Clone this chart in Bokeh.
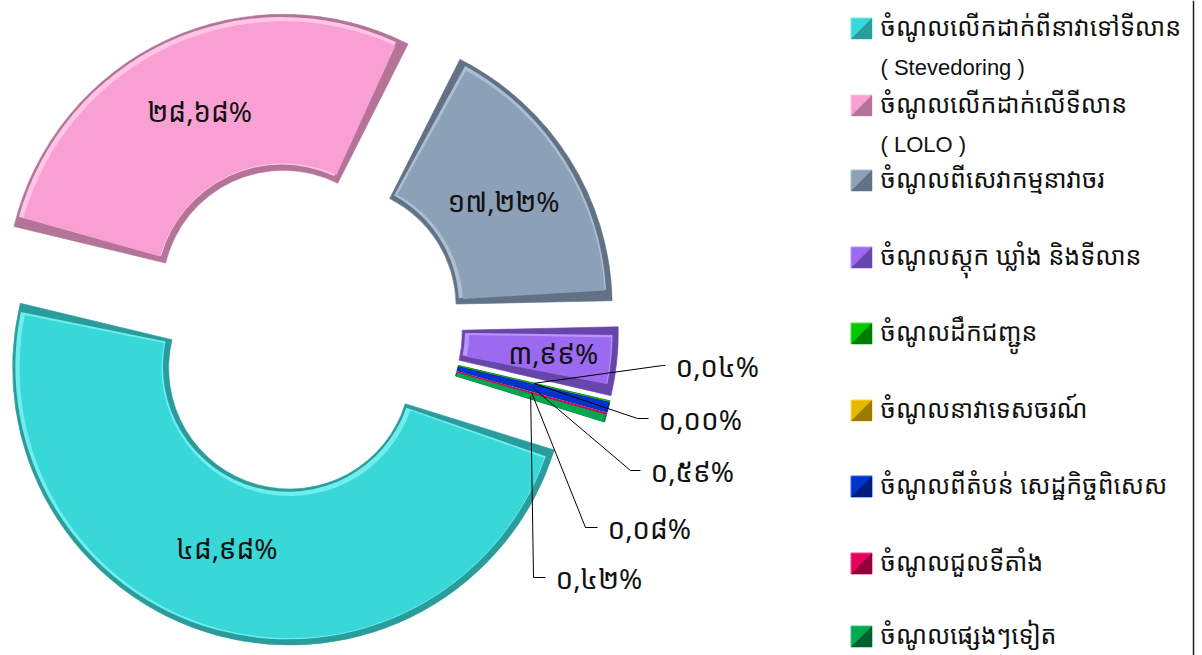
import numpy as np
from bokeh.plotting import figure
from bokeh.models import Range1d, ColumnDataSource, Span
from bokeh.core.properties import value
from bokeh.embed import file_html
from bokeh.resources import INLINE

# ---------------- data ----------------
categories = [
    "ចំណូលលើកដាក់ពីនាវាទៅទីលាន ( Stevedoring )",
    "ចំណូលលើកដាក់លើទីលាន ( LOLO )",
    "ចំណូលពីសេវាកម្មនាវាចរ",
    "ចំណូលស្តុក ឃ្លាំង និងទីលាន",
    "ចំណូលដឹកជញ្ជូន",
    "ចំណូលនាវាទេសចរណ៍",
    "ចំណូលពីតំបន់ សេដ្ឋកិច្ចពិសេស",
    "ចំណូលជួលទីតាំង",
    "ចំណូលផ្សេងៗទៀត",
]
legend_line1 = [
    "ចំណូលលើកដាក់ពីនាវាទៅទីលាន",
    "ចំណូលលើកដាក់លើទីលាន",
    "ចំណូលពីសេវាកម្មនាវាចរ",
    "ចំណូលស្តុក ឃ្លាំង និងទីលាន",
    "ចំណូលដឹកជញ្ជូន",
    "ចំណូលនាវាទេសចរណ៍",
    "ចំណូលពីតំបន់ សេដ្ឋកិច្ចពិសេស",
    "ចំណូលជួលទីតាំង",
    "ចំណូលផ្សេងៗទៀត",
]
legend_line2 = ["( Stevedoring )", "( LOLO )", "", "", "", "", "", "", ""]
shares = [48.98, 28.68, 17.22, 3.99, 0.04, 0.00, 0.59, 0.08, 0.42]
labels = ["៤៨,៩៨%", "២៨,៦៨%", "១៧,២២%", "៣,៩៩%", "០,០៤%", "០,០០%", "០,៥៩%", "០,០៨%", "០,៤២%"]

# ---------------- style ----------------
main_colors = ["#38D8D8", "#F9A0D2", "#8CA0B8", "#9B6AF0", "#00C800",
               "#E8B800", "#0033CC", "#E8005E", "#00A850"]
dark_colors = ["#2A9C9C", "#B47498", "#627286", "#6646A8", "#007A00",
               "#9A7A00", "#001A80", "#90003A", "#006030"]
light_colors = ["#70EEEE", "#FFC4E6", "#AEBED2", "#B994FF", "#50E050",
                "#FFD850", "#3366EE", "#FF4088", "#40C880"]

KH = value("Noto Sans Khmer, Khmer OS, Khmer OS System, Noto Sans, sans-serif")
LAT = value("Liberation Sans, Arial, sans-serif")

W, H = 1202, 655
p = figure(width=W, height=H, output_backend="svg", toolbar_location=None,
           x_range=Range1d(0, W), y_range=Range1d(0, H),
           min_border=0)
p.axis.visible = False
p.grid.visible = False
p.outline_line_color = None
p.background_fill_color = "white"

# geometry (pixels, y up)
cx, cy = 300.0, 655 - 328.0
r_out, r_in = 277.0, 121.0
explode = 41.0
theta0 = -17.2  # degrees, start of first slice, going clockwise
bevel = 7.0

cum = np.concatenate([[0.0], np.cumsum(shares)])
a_start = np.radians(theta0 - 3.6 * cum[:-1])   # larger angle
a_end = np.radians(theta0 - 3.6 * cum[1:])      # smaller angle
a_mid = (a_start + a_end) / 2
ox = cx + explode * np.cos(a_mid)
oy = cy + explode * np.sin(a_mid)

span = a_start - a_end
vis = span > 0
rm = (r_in + r_out) / 2
big = span > np.radians(3.0)
small = vis & ~big

src = ColumnDataSource(dict(x=ox[vis], y=oy[vis], s=a_end[vis], e=a_start[vis],
                            dark=np.array(dark_colors)[vis]))
# outer dark rim
p.annular_wedge(x="x", y="y", inner_radius=r_in, outer_radius=r_out,
                start_angle="s", end_angle="e", fill_color="dark",
                line_color="dark", line_width=0.6, source=src)

# light bevel (upper part of rim), then main face
d_ang = bevel / rm
src2 = ColumnDataSource(dict(x=ox[big] - 1.5, y=oy[big] + 1.5,
                             s=a_end[big] + d_ang, e=a_start[big] - d_ang,
                             light=np.array(light_colors)[big]))
p.annular_wedge(x="x", y="y", inner_radius=r_in + bevel * 0.6, outer_radius=r_out - bevel * 0.6,
                start_angle="s", end_angle="e", fill_color="light",
                line_color=None, source=src2)
src3 = ColumnDataSource(dict(x=ox[big], y=oy[big],
                             s=a_end[big] + d_ang * 1.1, e=a_start[big] - d_ang * 1.1,
                             main=np.array(main_colors)[big]))
p.annular_wedge(x="x", y="y", inner_radius=r_in + bevel, outer_radius=r_out - bevel,
                start_angle="s", end_angle="e", fill_color="main",
                line_color=None, source=src3)
# tiny slices: main colour face
src4 = ColumnDataSource(dict(x=ox[small], y=oy[small], s=a_end[small], e=a_start[small],
                             main=np.array(main_colors)[small]))
p.annular_wedge(x="x", y="y", inner_radius=r_in + 1, outer_radius=r_out - 1,
                start_angle="s", end_angle="e", fill_color="main",
                line_color=None, source=src4)

# data labels inside big slices (small nudges as placed in the reference)
lab_dx = [-10, 0, 0, 14, 0, 0, 0, 0, 0]
lab_dy = [12, 0, 0, 0, 0, 0, 0, 0, 0]
lx = ox + rm * np.cos(a_mid)
ly = oy + rm * np.sin(a_mid)
bi = np.where(big)[0]
p.text(x=[lx[i] + lab_dx[i] for i in bi], y=[ly[i] + lab_dy[i] for i in bi],
       text=[labels[i] for i in bi],
       text_align="center", text_baseline="middle", text_font=KH,
       text_font_size="28px", text_color="#111111")

# leader lines + labels for tiny slices (label anchor layout, screen px)
sm_idx = np.where(span >= 0)[0][4:]
lab_text_x = [675, 658, 650, 607, 555]
lab_y_screen = [365, 418, 470, 527, 577]
elbow_x = [662, 637, 630, 585, 533]
xs, ys = [], []
for k, i in enumerate(sm_idx):
    sx, sy = lx[i], ly[i]
    ty = 655 - lab_y_screen[k]
    xs.append([sx, elbow_x[k], lab_text_x[k] - 10])
    ys.append([sy, ty, ty])
p.multi_line(xs=xs, ys=ys, line_color="black", line_width=1)
p.text(x=lab_text_x, y=[655 - v for v in lab_y_screen],
       text=[labels[i] for i in sm_idx], text_align="left", text_baseline="middle",
       text_font=KH, text_font_size="28px", text_color="#111111")

# legend (manual)
leg_y_screen = [28, 105, 180, 257, 333, 410, 486, 563, 636]
mk = 21
mx = 861
for i in range(len(categories)):
    yc = 655 - leg_y_screen[i]
    p.rect(x=[mx], y=[yc], width=mk, height=mk, fill_color=main_colors[i],
           line_color=light_colors[i], line_width=1)
    p.patch(x=[mx - mk / 2, mx + mk / 2, mx + mk / 2],
            y=[yc - mk / 2, yc - mk / 2, yc + mk / 2],
            fill_color=dark_colors[i], line_color=None)
p.text(x=[880] * len(legend_line1), y=[655 - v + 3 for v in leg_y_screen],
       text=legend_line1, text_align="left", text_baseline="middle",
       text_font=KH, text_font_size="25px", text_color="#111111")
l2_idx = [i for i, t in enumerate(legend_line2) if t]
p.text(x=[880] * len(l2_idx), y=[655 - leg_y_screen[i] - 39 for i in l2_idx],
       text=[legend_line2[i] for i in l2_idx], text_align="left", text_baseline="middle",
       text_font=LAT, text_font_size="22px", text_color="#111111")

p.add_layout(Span(location=1193, dimension="height", line_color="#222222", line_width=1.5))

open("out.html", "w").write(file_html(p, INLINE))
